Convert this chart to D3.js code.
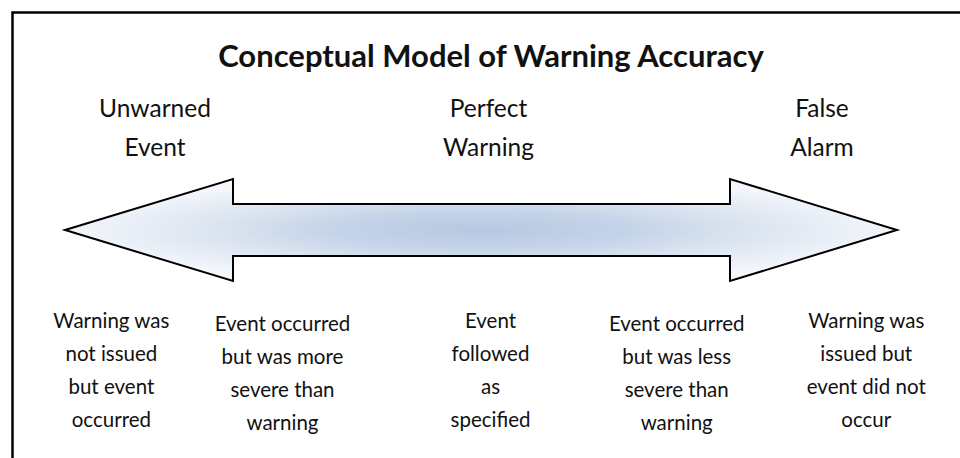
<!DOCTYPE html>
<html>
<head>
<meta charset="utf-8">
<script src="https://cdn.jsdelivr.net/npm/d3@7"></script>
<style>
  html, body { margin: 0; padding: 0; background: #fff; }
  svg { display: block; }
  text { font-family: Lato, "Open Sans", sans-serif; fill: #111; }
</style>
</head>
<body>
<svg id="chart" width="960" height="458"></svg>
<script>
// ---- content ----
const title = "Conceptual Model of Warning Accuracy";
const endpointLabels = [["Unwarned", "Event"], ["Perfect", "Warning"], ["False", "Alarm"]];
const endpointPositions = [-1, 0, 1];              // conceptual accuracy scale
const outcomeTexts = [
  ["Warning was", "not issued", "but event", "occurred"],
  ["Event occurred", "but was more", "severe than", "warning"],
  ["Event", "followed", "as", "specified"],
  ["Event occurred", "but was less", "severe than", "warning"],
  ["Warning was", "issued but", "event did not", "occur"]
];
const outcomePositions = [-1.13, -0.62, 0, 0.555, 1.12];  // conceptual accuracy scale
const outcomeOffsets = [0, 1, 0, 1, 0];

// ---- layout ----
const svg = d3.select("#chart");
const W = 960, H = 458;
const x = d3.scaleLinear().domain([-1, 1]).range([155, 822]);
const cx = 491;

// frame (open at right/bottom)
svg.append("path")
  .attr("d", `M12.5,${H + 5} L12.5,12.5 L${W + 5},12.5`)
  .attr("fill", "none").attr("stroke", "#000").attr("stroke-width", 2.5);

// title
svg.append("text")
  .attr("x", cx).attr("y", 67)
  .attr("text-anchor", "middle")
  .style("font-weight", "bold").style("font-size", "31px")
  .text(title);

// endpoint labels
endpointLabels.forEach((lines, i) => {
  lines.forEach((t, j) => {
    svg.append("text")
      .attr("x", x(endpointPositions[i])).attr("y", 117 + j * 39)
      .attr("text-anchor", "middle").style("font-size", "24.5px")
      .text(t);
  });
});

// gradient for arrow
const defs = svg.append("defs");
const rg = defs.append("radialGradient").attr("id", "ag")
  .attr("cx", 0.5).attr("cy", 0.5).attr("r", 0.5);
[[0, "#b6c9e2"], [0.35, "#c4d3e8"], [0.6, "#d8e2ef"], [1, "#f3f6fb"]]
  .forEach(([o, c]) => rg.append("stop").attr("offset", o).attr("stop-color", c));

// double-headed arrow
const tipL = 65, tipR = 897, baseL = 233, baseR = 730;
const yMid = 230, headHalf = 51, shaftHalf = 26;
const arrow = [
  [tipL, yMid], [baseL, yMid - headHalf], [baseL, yMid - shaftHalf],
  [baseR, yMid - shaftHalf], [baseR, yMid - headHalf], [tipR, yMid],
  [baseR, yMid + headHalf], [baseR, yMid + shaftHalf], [baseL, yMid + shaftHalf],
  [baseL, yMid + headHalf]
];
svg.append("path")
  .attr("d", d3.line()(arrow) + "Z")
  .attr("fill", "url(#ag)").attr("stroke", "#000")
  .attr("stroke-width", 2).attr("stroke-linejoin", "miter");

// outcome descriptions
const xo = d3.scaleLinear().domain([-1, 1]).range([155, 826]);
outcomeTexts.forEach((lines, i) => {
  lines.forEach((t, j) => {
    svg.append("text")
      .attr("x", xo(outcomePositions[i])).attr("y", 328 + outcomeOffsets[i] * 3 + j * 33)
      .attr("text-anchor", "middle").style("font-size", "20.5px")
      .text(t);
  });
});
</script>
</body>
</html>
